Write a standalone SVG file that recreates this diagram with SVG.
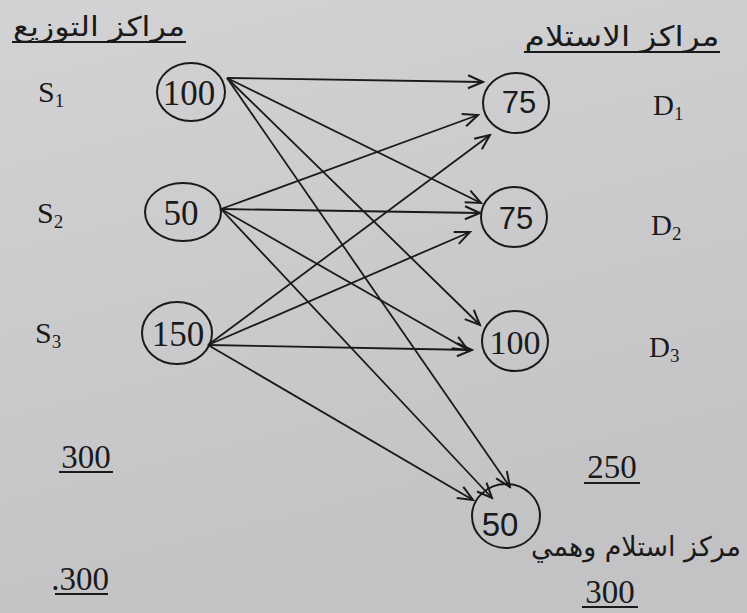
<svg xmlns="http://www.w3.org/2000/svg" width="747" height="613" viewBox="0 0 747 613">
<defs>
<linearGradient id="bg" x1="0" y1="0" x2="0.3" y2="1">
<stop offset="0" stop-color="#d3d3d5"/>
<stop offset="1" stop-color="#c3c3c5"/>
</linearGradient>
<marker id="ah" viewBox="-17 -8 19 16" markerWidth="19" markerHeight="16" refX="0" refY="0" orient="auto" markerUnits="userSpaceOnUse">
<path d="M-15,-6.5 L0,0 L-15,6.5" fill="none" stroke="#1a1a1a" stroke-width="2"/>
</marker>
</defs>
<style>
.node{fill:none;stroke:#1a1a1a;stroke-width:2}
.serif{font-family:"Liberation Serif","DejaVu Serif",serif;fill:#1a1a1a}
.sans{font-family:"Liberation Sans","DejaVu Sans",sans-serif;fill:#1a1a1a}
.ar{font-family:"DejaVu Sans","Noto Sans",sans-serif;fill:#1a1a1a}
.conn line{stroke:#1a1a1a;stroke-width:1.8;marker-end:url(#ah)}
.ul{stroke:#1a1a1a;stroke-width:2}
</style>
<rect width="747" height="613" fill="url(#bg)"/>

<!-- headers -->
<g id="header-supply">
<text class="ar" x="99" y="36" font-size="27" text-anchor="middle" textLength="172" lengthAdjust="spacingAndGlyphs">مراكز التوزيع</text>
<line class="ul" x1="12" y1="42" x2="186" y2="42"/>
</g>
<g id="header-demand">
<text class="ar" x="622" y="46" font-size="28" text-anchor="middle" textLength="195" lengthAdjust="spacingAndGlyphs">مراكز الاستلام</text>
<line class="ul" x1="524" y1="52" x2="720" y2="52"/>
</g>

<!-- row labels -->
<g id="label-S1"><text class="serif" x="38" y="102" font-size="30">S<tspan font-size="19" dy="5">1</tspan></text></g>
<g id="label-S2"><text class="serif" x="37" y="223" font-size="30">S<tspan font-size="19" dy="5">2</tspan></text></g>
<g id="label-S3"><text class="serif" x="35" y="343" font-size="30">S<tspan font-size="19" dy="5">3</tspan></text></g>
<g id="label-D1"><text class="serif" x="653" y="115" font-size="29">D<tspan font-size="19" dy="5">1</tspan></text></g>
<g id="label-D2"><text class="serif" x="651" y="235" font-size="29">D<tspan font-size="19" dy="5">2</tspan></text></g>
<g id="label-D3"><text class="serif" x="649" y="357" font-size="29">D<tspan font-size="19" dy="5">3</tspan></text></g>

<!-- connectors -->
<g id="connectors" class="conn">
<line x1="227" y1="78" x2="483" y2="82"/>
<line x1="227" y1="78" x2="481" y2="203"/>
<line x1="227" y1="78" x2="480" y2="325"/>
<line x1="227" y1="78" x2="510" y2="487"/>
<line x1="221" y1="209" x2="478" y2="115"/>
<line x1="221" y1="209" x2="480" y2="213"/>
<line x1="221" y1="209" x2="468" y2="350"/>
<line x1="221" y1="209" x2="492" y2="498"/>
<line x1="208" y1="345" x2="490" y2="135"/>
<line x1="208" y1="345" x2="470" y2="232"/>
<line x1="208" y1="345" x2="472" y2="350"/>
<line x1="208" y1="345" x2="473" y2="500"/>
</g>

<!-- source nodes -->
<g id="node-S1">
<ellipse class="node" cx="191" cy="92" rx="34" ry="29"/>
<text class="serif" x="189" y="105" font-size="35" text-anchor="middle">100</text>
</g>
<g id="node-S2">
<ellipse class="node" cx="183" cy="212" rx="38" ry="29"/>
<text class="serif" x="181" y="225" font-size="35" text-anchor="middle">50</text>
</g>
<g id="node-S3">
<ellipse class="node" cx="177" cy="333" rx="35" ry="31"/>
<text class="serif" x="178" y="346" font-size="35" text-anchor="middle">150</text>
</g>

<!-- destination nodes -->
<g id="node-D1">
<ellipse class="node" cx="516" cy="103" rx="33" ry="30"/>
<text class="sans" x="519" y="113" font-size="31" text-anchor="middle">75</text>
</g>
<g id="node-D2">
<ellipse class="node" cx="514" cy="217" rx="33" ry="30"/>
<text class="sans" x="516" y="229" font-size="31" text-anchor="middle">75</text>
</g>
<g id="node-D3">
<ellipse class="node" cx="515" cy="341" rx="33" ry="30"/>
<text class="serif" x="515" y="354" font-size="34" text-anchor="middle">100</text>
</g>
<g id="node-dummy">
<ellipse class="node" cx="506" cy="516" rx="34" ry="32"/>
<text class="sans" x="500" y="536" font-size="33" text-anchor="middle">50</text>
<text class="ar" x="636" y="556" font-size="27" text-anchor="middle" textLength="210" lengthAdjust="spacingAndGlyphs">مركز استلام وهمي</text>
</g>

<!-- totals -->
<g id="total-supply-1">
<text class="serif" x="86" y="468" font-size="33" text-anchor="middle">300</text>
<line class="ul" x1="59" y1="472" x2="113" y2="472"/>
</g>
<g id="total-supply-2">
<text class="serif" x="80" y="590" font-size="33" text-anchor="middle">.300</text>
<line class="ul" x1="55" y1="594" x2="108" y2="594"/>
</g>
<g id="total-demand-1">
<text class="serif" x="612" y="478" font-size="33" text-anchor="middle">250</text>
<line class="ul" x1="584" y1="483" x2="640" y2="483"/>
</g>
<g id="total-demand-2">
<text class="serif" x="610" y="603" font-size="33" text-anchor="middle">300</text>
<line class="ul" x1="582" y1="607" x2="638" y2="607"/>
</g>
</svg>
